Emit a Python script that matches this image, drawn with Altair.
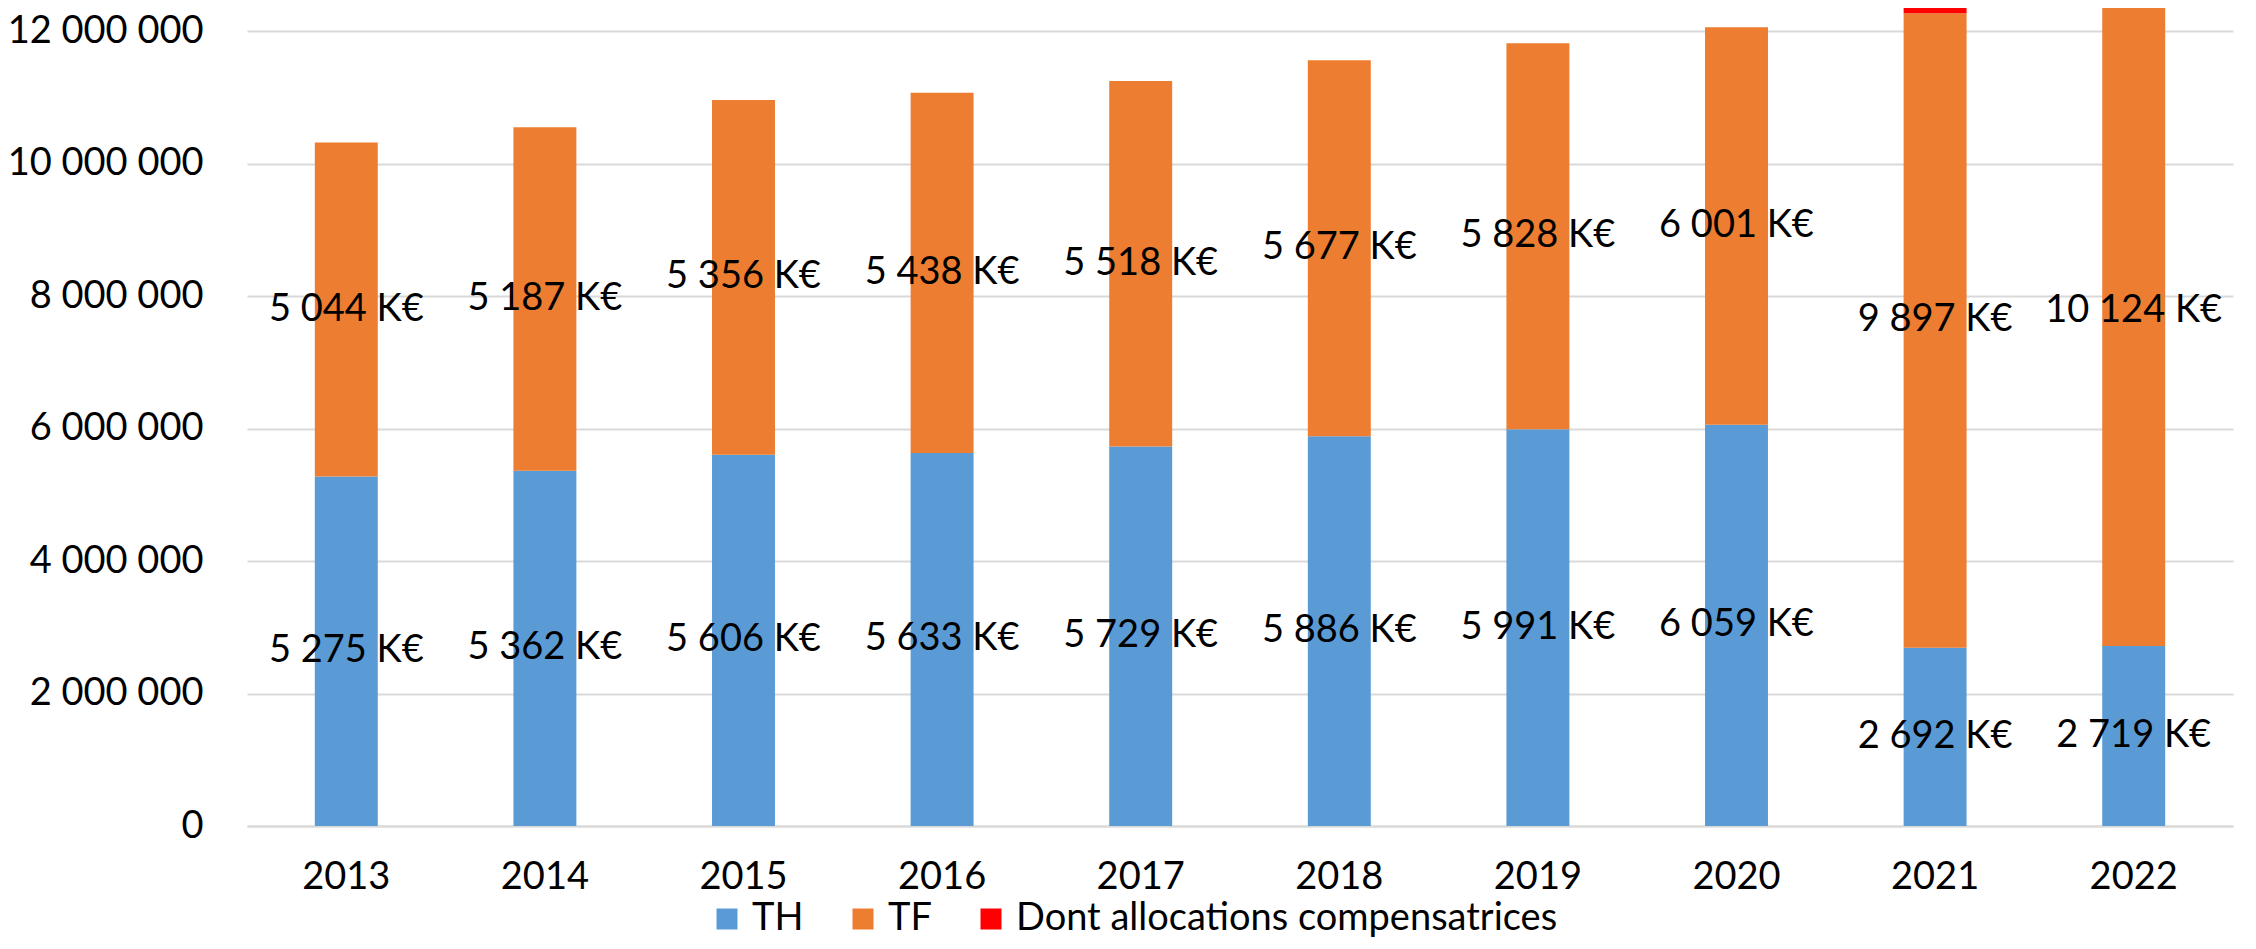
import altair as alt
import pandas as pd

years = [2013, 2014, 2015, 2016, 2017, 2018, 2019, 2020, 2021, 2022]
th_keur = [5275, 5362, 5606, 5633, 5729, 5886, 5991, 6059, 2692, 2719]
tf_keur = [5044, 5187, 5356, 5438, 5518, 5677, 5828, 6001, 9897, 10124]
alloc_keur = [0, 0, 0, 0, 0, 0, 0, 0, 319, 0]
series_names = ["TH", "TF", "Dont allocations compensatrices"]
series_colors = ["#5B9BD5", "#ED7D31", "#FF0000"]
y_ticks = [0, 2000000, 4000000, 6000000, 8000000, 10000000, 12000000]

rows = []
for i, yr in enumerate(years):
    rows.append({"year": str(yr), "serie": "TH", "value": th_keur[i] * 1000, "ord": 0})
    rows.append({"year": str(yr), "serie": "TF", "value": (tf_keur[i] - alloc_keur[i]) * 1000, "ord": 1})
    rows.append({"year": str(yr), "serie": "Dont allocations compensatrices", "value": alloc_keur[i] * 1000, "ord": 2})
bars_df = pd.DataFrame(rows)


def fmt(v):
    return f"{v:,}".replace(",", " ") + " K€"


labels = []
for i, yr in enumerate(years):
    labels.append({"year": str(yr), "pos": th_keur[i] * 1000 / 2, "label": fmt(th_keur[i])})
    labels.append({"year": str(yr), "pos": (th_keur[i] + tf_keur[i] / 2) * 1000, "label": fmt(tf_keur[i])})
labels_df = pd.DataFrame(labels)

FONT = "Lato"
FS = 38

x_scale = alt.Scale(paddingInner=0.683, paddingOuter=0.3415)
y_scale = alt.Scale(domain=[0, 12350000], nice=False, zero=True)

x_axis = alt.Axis(
    labelAngle=0, ticks=False, labelPadding=32, labelFontSize=FS, labelFont=FONT,
    labelColor="#000000", domainColor="#D9D9D9", domainWidth=2, grid=False,
)
y_axis = alt.Axis(
    values=y_ticks, domain=False, ticks=False, labelPadding=44, labelFontSize=FS,
    labelFont=FONT, labelColor="#000000", gridColor="#D9D9D9", gridWidth=2,
    labelLimit=400,
    labelExpr="replace(replace(format(datum.value, ',d'), ',', ' '), ',', ' ')",
)

bars = alt.Chart(bars_df).mark_bar(clip=True).encode(
    x=alt.X("year:N", title=None, scale=x_scale, axis=x_axis),
    y=alt.Y("value:Q", stack="zero", title=None, scale=y_scale, axis=y_axis),
    color=alt.Color(
        "serie:N",
        scale=alt.Scale(domain=series_names, range=series_colors),
        legend=alt.Legend(
            title=None, orient="none", legendX=461, legendY=892, direction="horizontal",
            symbolType="square", symbolSize=441, symbolStrokeWidth=0, labelFontSize=FS,
            labelFont=FONT, labelColor="#000000", labelOffset=6, columnPadding=40,
            padding=0, labelLimit=1000,
        ),
    ),
    order=alt.Order("ord:Q", sort="ascending"),
)

text = alt.Chart(labels_df).mark_text(font=FONT, fontSize=FS, color="#000000", clip=True).encode(
    x=alt.X("year:N", title=None, scale=x_scale, axis=x_axis),
    y=alt.Y("pos:Q", title=None, scale=y_scale, axis=y_axis),
    text="label:N",
)

chart = alt.layer(bars, text).properties(
    width=1986,
    height=818,
    padding={"left": 239, "top": 0, "right": 10, "bottom": 113},
    autosize=alt.AutoSizeParams(type="none"),
).configure_view(strokeWidth=0)

chart.save("out.html", embed_options={"renderer": "svg", "actions": False})
